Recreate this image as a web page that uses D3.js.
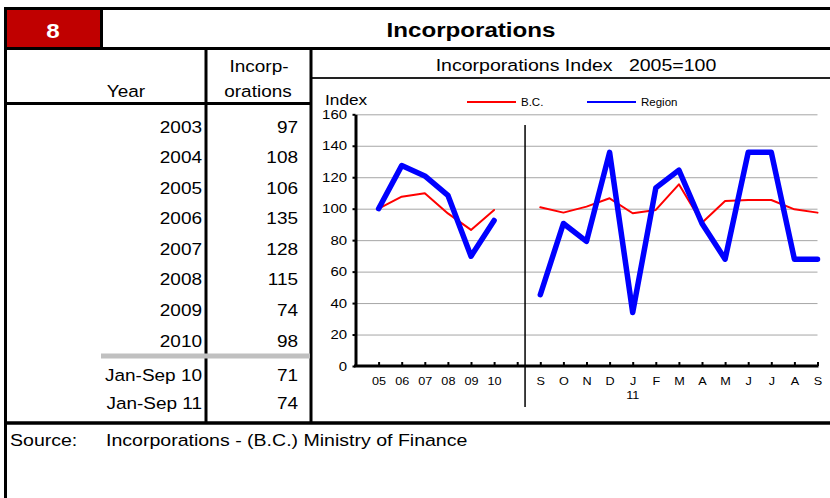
<!DOCTYPE html>
<html>
<head>
<meta charset="utf-8">
<script src="https://cdn.jsdelivr.net/npm/d3@7"></script>
<style>
  html, body { margin: 0; padding: 0; background: #fff; }
  svg { display: block; font-family: "Liberation Sans", Arial, sans-serif; }
</style>
</head>
<body>
<svg id="chart" width="830" height="498"></svg>
<script>
// ---- Table data: annual incorporations in the region ----
const years = ["2003", "2004", "2005", "2006", "2007", "2008", "2009", "2010"];
const incorporations = [97, 108, 106, 135, 128, 115, 74, 98];
const ytdLabels = ["Jan-Sep 10", "Jan-Sep 11"];
const ytdValues = [71, 74];

// ---- Chart data: incorporations index, 2005 = 100 ----
const annualLabels = ["05", "06", "07", "08", "09", "10"];
const monthLabels = ["S", "O", "N", "D", "J", "F", "M", "A", "M", "J", "J", "A", "S"];
const bcAnnual = [100, 107.6, 109.8, 97.0, 86.5, 99.2];
const regionAnnual = [100, 127.4, 120.8, 108.5, 69.8, 92.5];
const bcMonthly = [100.9, 97.5, 101.3, 106.6, 97.1, 99.2, 115.5, 91.0, 104.9, 105.5, 105.5, 99.6, 97.5];
const regionMonthly = [45.3, 90.6, 79.2, 135.8, 34.0, 113.2, 124.5, 90.6, 67.9, 135.8, 135.8, 67.9, 67.9];
const yTicks = [0, 20, 40, 60, 80, 100, 120, 140, 160];
const seriesNames = ["B.C.", "Region"];

const svg = d3.select("#chart");
const SX = 1.15; // horizontal text stretch used throughout the sheet

function label(g, x, y, str, opts = {}) {
  return g.append("text")
    .attr("transform", `translate(${x},${y}) scale(${opts.sx || SX},1)`)
    .attr("text-anchor", opts.anchor || "start")
    .attr("font-size", opts.size || 16)
    .attr("font-weight", opts.weight || "normal")
    .attr("fill", opts.fill || "#000")
    .style("white-space", "pre")
    .text(str);
}

// ---- Sheet frame ----
const frame = svg.append("g");
frame.append("rect").attr("x", 7).attr("y", 9.5).attr("width", 93).attr("height", 37.5).attr("fill", "#c00000");
const hline = (x1, x2, y, w, c = "#000") => frame.append("line")
  .attr("x1", x1).attr("x2", x2).attr("y1", y).attr("y2", y).attr("stroke", c).attr("stroke-width", w);
const vline = (x, y1, y2, w, c = "#000") => frame.append("line")
  .attr("x1", x).attr("x2", x).attr("y1", y1).attr("y2", y2).attr("stroke", c).attr("stroke-width", w);

hline(4, 830, 8.5, 3);
hline(4, 830, 48.5, 3);
hline(4, 311, 103.5, 3);
hline(311, 830, 78, 2, "#222");
hline(4, 830, 423, 3.5);
vline(5.5, 7, 498, 3);
vline(101.5, 8, 48, 3);
vline(206, 48, 423, 3);
vline(311, 48, 423, 3);

// grey rule separating the year-to-date rows
frame.append("rect").attr("x", 101).attr("y", 353.5).attr("width", 209).attr("height", 5).attr("fill", "#c0c0c0");

// ---- Headings ----
label(svg, 53, 37.5, "8", { anchor: "middle", size: 21, weight: "bold", fill: "#fff" });
label(svg, 471, 37, "Incorporations", { anchor: "middle", size: 21, weight: "bold" });
label(svg, 126, 97, "Year", { anchor: "middle", size: 16.5 });
label(svg, 259, 72, "Incorp-", { anchor: "middle", size: 16.5 });
label(svg, 258, 97, "orations", { anchor: "middle", size: 16.5 });
label(svg, 576, 70.5, "Incorporations Index\u00a0\u00a0\u00a02005=100", { anchor: "middle", size: 17 });

// ---- Table rows ----
const rowY = d3.scaleLinear().domain([0, years.length - 1]).range([132.5, 346.5]);
years.forEach((yr, i) => {
  label(svg, 202, rowY(i), yr, { anchor: "end", size: 16.5 });
  label(svg, 298, rowY(i), incorporations[i], { anchor: "end", size: 16.5 });
});
const ytdY = [381, 408.5];
ytdLabels.forEach((t, i) => {
  label(svg, 202, ytdY[i], t, { anchor: "end", size: 16.5 });
  label(svg, 298, ytdY[i], ytdValues[i], { anchor: "end", size: 16.5 });
});

// ---- Source note ----
label(svg, 10, 446, "Source:", { size: 17 });
label(svg, 106, 446, "Incorporations - (B.C.) Ministry of Finance", { size: 17 });

// ---- Chart ----
// slot 0 is the axis origin, slots 1-6 annual, slot 7 a gap, slots 8-20 monthly
const slotLabels = [""].concat(annualLabels, [""], monthLabels);
const x = d3.scalePoint().domain(d3.range(slotLabels.length)).range([355.5, 817.5]);
const y = d3.scaleLinear().domain([0, 160]).range([366, 114.3]);
const xLeft = x(0), xRight = x(slotLabels.length - 1);

const chart = svg.append("g");

// gridlines
chart.append("g")
  .attr("transform", `translate(${xLeft},0)`)
  .call(d3.axisLeft(y).tickValues(yTicks.slice(1)).tickSize(-(xRight - xLeft)).tickFormat(""))
  .call(g => g.select(".domain").remove())
  .call(g => g.selectAll("line").attr("stroke", "#a6a6a6").attr("stroke-width", 1));

// vertical separator between annual and monthly sections
const sepX = x(7) + x.step() * 0.34;
chart.append("line")
  .attr("x1", sepX).attr("x2", sepX).attr("y1", 125).attr("y2", 407)
  .attr("stroke", "#000").attr("stroke-width", 1.5);

// y axis
const yAxis = chart.append("g")
  .attr("transform", `translate(${xLeft},0)`)
  .call(d3.axisLeft(y).tickValues(yTicks).tickSize(3).tickSizeOuter(0).tickPadding(5));
yAxis.select(".domain").attr("stroke-width", 3);
yAxis.selectAll(".tick line").attr("stroke-width", 2);
yAxis.selectAll(".tick text")
  .attr("font-family", null).attr("font-size", 13).attr("fill", "#000")
  .attr("x", -8.5 / SX).attr("transform", `scale(${SX},1)`);

// x axis
const xAxis = chart.append("g")
  .attr("transform", `translate(0,${y(0)})`)
  .call(d3.axisBottom(x).tickValues(d3.range(1, slotLabels.length))
    .tickFormat(i => slotLabels[i]).tickSize(-4).tickSizeOuter(0).tickPadding(11));
xAxis.select(".domain").attr("stroke-width", 3).attr("d", `M${xLeft - 1.5},0H${xRight + 1}`);
xAxis.selectAll(".tick line").attr("stroke-width", 2);
xAxis.selectAll(".tick text")
  .attr("font-family", null).attr("font-size", 11).attr("fill", "#000")
  .attr("transform", `scale(${SX},1)`);
label(chart, x(8 + monthLabels.indexOf("J")), 399, "11", { anchor: "middle", size: 11 });

// lines
const line = d3.line().x(d => x(d[0])).y(d => y(d[1]));
const annualSlots = annualLabels.map((_, i) => i + 1);
const monthSlots = monthLabels.map((_, i) => i + 8);
const segs = [
  { name: "B.C.", color: "#ff0000", width: 2, data: [bcAnnual, bcMonthly] },
  { name: "Region", color: "#0000ff", width: 5.5, data: [regionAnnual, regionMonthly] }
];
segs.forEach(s => {
  [annualSlots, monthSlots].forEach((slots, k) => {
    chart.append("path")
      .datum(slots.map((slot, i) => [slot, s.data[k][i]]))
      .attr("d", line)
      .attr("fill", "none")
      .attr("stroke", s.color)
      .attr("stroke-width", s.width)
      .attr("stroke-linejoin", "round")
      .attr("stroke-linecap", "round");
  });
});

// axis title and legend
label(chart, 325, 105, "Index", { size: 15 });
const legendX = [467, 587];
seriesNames.forEach((n, i) => {
  chart.append("line")
    .attr("x1", legendX[i]).attr("x2", legendX[i] + 49).attr("y1", 102).attr("y2", 102)
    .attr("stroke", segs[i].color).attr("stroke-width", 2);
  label(chart, legendX[i] + 54, 106, n, { size: 10 });
});
</script>
</body>
</html>
